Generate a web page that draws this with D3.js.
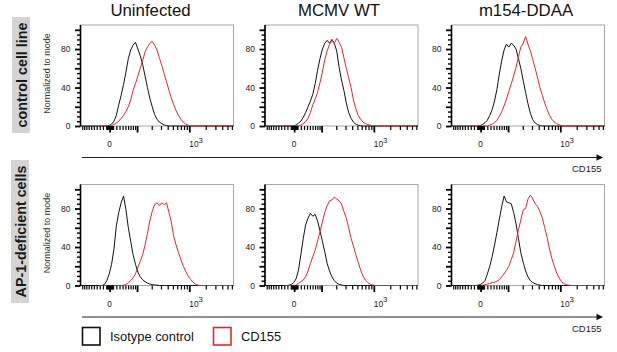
<!DOCTYPE html>
<html><head><meta charset="utf-8">
<script src="https://cdn.jsdelivr.net/npm/d3@7"></script>
<style>body{margin:0;background:#fff}svg{display:block}</style>
</head><body>
<svg id="chart" width="617" height="352"></svg>
<script>
// ---------------- data ----------------
const conditions = ["Uninfected", "MCMV WT", "m154-DDAA"];
const cellLines = ["control cell line", "AP-1-deficient cells"];
const legendLabels = ["Isotype control", "CD155"];
const axisTitle = "CD155";
const yAxisTitle = "Normalized to mode";
const yMinorTicks = [5,10,15,25,30,35,45,50,55,65,70,75,85,90,95];
const yMajorTicks = [0,20,40,60,80,100];
const yTickLabels = [0, 40, 80];
const xMinorTicks = [-100,-90,-80,-70,-60,-50,-40,-30,-20,-10,-8,-6,-4,-2,2,4,6,8,
  10,20,30,40,50,60,70,80,90,200,300,400,500,600,700,800,900,2000,3000,4000,5000,6000];
const xMajorTicks = [0, 100, 1000];
const xTickLabels = [{v: 0, base: "0", sup: ""}, {v: 1000, base: "10", sup: "3"}];

// histogram bins (display channels 0..1024)
const channels = [128,144,160,176,192,208,224,240,256,272,288,304,320,336,352,368,384,400,416,432,448,464,480,496,512,528,544,560,576,592,608,624,640,656,672,688,704,720,736,752,768,784,800];

// control cell line: [Uninfected, MCMV WT, m154-DDAA]
const controlIsotype = [
  [0,0,0,0,0.5,2,5,11,22,32,43,56,70,79,84,87,80,73,64,52,40,29,20,12,7,4,2.5,1,0.5,0,0,0,0,0,0,0,0,0,0,0,0,0,0],
  [0,0,0,0,0.3,1,3,5,9,14,20,26,33,44,58,70,80,86,89,86,90,86,78,61,48,37,24,14,8,4,2,0.8,0.3,0,0,0,0,0,0,0,0,0,0],
  [0,0,0,0,0.5,1.5,3.5,6,11,17,26,38,54,68,79,85,82,86,84,80,70,60,47,35,23,13,6.5,3,1.5,0.5,0,0,0,0,0,0,0,0,0,0,0,0,0]
];
const controlCD155 = [
  [0,0,0,0,0,0.5,1.5,3,5,8,11,15,20,27,37,44,52,60,68,77,82,86,88,84,79,71,63,54,46,37,29,22,16,11,7,4,2,0.8,0.3,0,0,0,0],
  [0,0,0,0,0,0,0.3,1,2.5,4.5,8,14,22,28,35,45,56,69,78,85,89,86,91,87,82,71,60,50,40,27,18,11,7,4,2.5,1.5,0.8,0.3,0,0,0,0,0],
  [0,0,0,0,0,0,0,0,1,2,3.5,6,10,15,21,28,36,44,52,61,72,82,86,93,85,78,69,60,50,40,32,24,17,11,7,4,2.5,1.2,0.5,0,0,0,0]
];
// AP-1-deficient cells
const ap1Isotype = [
  [0,0,1,5,12,22,38,62,76,86,93,79,60,46,32,22,14,9,6,4,2.5,1.5,1,0.6,0.3,0,0,0,0,0,0,0,0,0,0,0,0,0,0,0,0,0,0],
  [0,0,0.3,1,3,7,16,32,49,63,70,75,72,74,67,57,46,35,23,15,9,5,2.5,1.2,0.5,0,0,0,0,0,0,0,0,0,0,0,0,0,0,0,0,0,0],
  [0,0,0,0.3,1,2.5,5,12,20,30,42,55,69,82,93,87,86,85,76,64,49,34,24,15,9,5,3,1.8,1,0.4,0,0,0,0,0,0,0,0,0,0,0,0,0]
];
const ap1CD155 = [
  [0,0,0,0,0,0,0,0,0,0,0.3,1,3,5,8,12,19,25,32,42,54,67,77,84,86,83,86,84,86,76,66,51,42,34,27,20,15,10,6.5,3.5,1.5,0.5,0],
  [0,0,0,0,0,0.5,2,4,6,9,15,23,30,37,46,56,66,76,83,88,89,92,90,88,85,77,70,60,49,41,32,24,16,10,5.5,3,1.5,0.5,0,0,0,0,0],
  [0,0,0,0,0,0.3,0.8,1.5,2,3,3.5,4.5,6,9,12,16,20,27,34,46,58,68,79,80,90,94,90,85,82,77,70,60,50,38,28,20,13,8,4,2,1,0.4,0]
];
const isotypeRows = [controlIsotype, ap1Isotype];
const cd155Rows = [controlCD155, ap1CD155];

// ---------------- layout ----------------
const svg = d3.select("#chart");
const FONT = "'Liberation Sans', Arial, Helvetica, sans-serif";
const panelLeft = [80.5, 265, 451.5];
const panelTop = [25, 184.5];
const PW = 153, PH = 101;
const titleX = [150.5, 339, 526];
const BLACK = "#111", RED = "#e3262d";

const xScale = d3.scaleLinear().domain([0, 1024]).range([0, PW]);
const yScale = d3.scaleLinear().domain([0, 105]).range([PH, 0]);
// logicle-like display transform: fluorescence value -> display channel
const channelOf = v => 195 + 159 * Math.asinh(v / 70);
const tickX = v => xScale(channelOf(v));

const line = d3.line().x(d => xScale(d[0])).y(d => yScale(d[1])).curve(d3.curveLinear);

// column titles
conditions.forEach((c, j) => {
  svg.append("text").attr("x", titleX[j]).attr("y", 15.5)
    .attr("text-anchor", "middle").attr("font-family", FONT)
    .attr("font-size", 16.8).attr("fill", "#111").text(c);
});

// row labels
const rowBoxes = [{bx: 12, by: 17, bw: 18, bh: 116}, {bx: 11, by: 160, bw: 18, bh: 143}];
cellLines.forEach((lab, r) => {
  const b = rowBoxes[r];
  svg.append("rect").attr("x", b.bx).attr("y", b.by).attr("width", b.bw).attr("height", b.bh)
    .attr("fill", "#d4d4d4");
  const cxp = b.bx + b.bw / 2 + 0.5, cyp = b.by + b.bh / 2;
  svg.append("text").attr("transform", `translate(${cxp},${cyp}) rotate(-90)`)
    .attr("text-anchor", "middle").attr("dominant-baseline", "central")
    .attr("font-family", FONT).attr("font-weight", "bold").attr("font-size", 14.3)
    .attr("fill", "#1a1a1a").text(lab);
});

const styleAxis = (sel, w) => {
  sel.select(".domain").remove();
  sel.selectAll(".tick line").attr("stroke", "#000").attr("stroke-width", w);
  sel.selectAll(".tick text").remove();
};

cellLines.forEach((lab, r) => {
  const top = panelTop[r];
  svg.append("text").attr("transform", `translate(47,${top + 48.5}) rotate(-90)`)
    .attr("text-anchor", "middle").attr("dominant-baseline", "central")
    .attr("font-family", FONT).attr("font-size", 9).attr("fill", "#333").text(yAxisTitle);

  conditions.forEach((c, j) => {
    const g = svg.append("g").attr("transform", `translate(${panelLeft[j]},${top})`);
    g.append("rect").attr("x", 0).attr("y", 0).attr("width", PW).attr("height", PH)
      .attr("fill", "none").attr("stroke", "#a8a8a8").attr("stroke-width", 1);

    const iso = isotypeRows[r][j].map((v, i) => [channels[i], v]);
    const cd = cd155Rows[r][j].map((v, i) => [channels[i], v]);
    g.append("path").attr("d", line([[xScale.domain()[0], 0], ...iso, [xScale.domain()[1], 0]]))
      .attr("fill", "none").attr("stroke", BLACK).attr("stroke-width", 1).attr("stroke-linejoin", "round");
    g.append("path").attr("d", line([...cd, [xScale.domain()[1], 0]]))
      .attr("fill", "none").attr("stroke", RED).attr("stroke-width", 1).attr("stroke-linejoin", "round");

    // x ticks via d3 axes (positions through the logicle-like transform)
    const minorPos = xMinorTicks.map(channelOf).filter(ch => ch >= 0 && ch <= 1024);
    g.append("g").attr("transform", `translate(0,${PH})`)
      .call(d3.axisBottom(xScale).tickValues(minorPos).tickSize(4).tickSizeOuter(0))
      .call(s => styleAxis(s, 1.2));
    g.append("g").attr("transform", `translate(0,${PH})`)
      .call(d3.axisBottom(xScale).tickValues(xMajorTicks.map(channelOf)).tickSize(6.5).tickSizeOuter(0))
      .call(s => styleAxis(s, 1.8));

    xTickLabels.forEach(t => {
      const px = tickX(t.v);
      const tx = g.append("text").attr("y", PH + 21)
        .attr("font-family", FONT).attr("font-size", 8.3).attr("fill", "#222");
      if (t.sup) {
        tx.attr("x", px).attr("text-anchor", "start");
        tx.append("tspan").text(t.base);
        tx.append("tspan").attr("dy", -4.5).attr("font-size", 7.8).text(t.sup);
      } else {
        tx.attr("x", px).attr("text-anchor", "middle").text(t.base);
      }
    });

    // y axis
    g.append("line").attr("x1", 0).attr("x2", 0).attr("y1", 0).attr("y2", PH)
      .attr("stroke", "#000").attr("stroke-width", 1.6);
    g.append("g").call(d3.axisLeft(yScale).tickValues(yMinorTicks).tickSize(3.5).tickSizeOuter(0))
      .call(s => styleAxis(s, 1.4));
    g.append("g").call(d3.axisLeft(yScale).tickValues(yMajorTicks).tickSize(5.5).tickSizeOuter(0))
      .call(s => styleAxis(s, 1.8));
    yTickLabels.forEach(v => {
      g.append("text").attr("x", -10).attr("y", yScale(v)).attr("text-anchor", "end")
        .attr("dominant-baseline", "central").attr("font-family", FONT)
        .attr("font-size", 8.5).attr("fill", "#222").text(v);
    });
  });

  const ay = top + PH + 31.5;
  svg.append("line").attr("x1", 82).attr("x2", 598).attr("y1", ay).attr("y2", ay)
    .attr("stroke", "#222").attr("stroke-width", 1);
  svg.append("path").attr("d", `M596.5,${ay - 3.2}L603,${ay}L596.5,${ay + 3.2}Z`).attr("fill", "#111");
  svg.append("text").attr("x", 601.5).attr("y", ay + 14.5).attr("text-anchor", "end")
    .attr("font-family", FONT).attr("font-size", 9.5).attr("fill", "#222").text(axisTitle);
});

const legColors = [BLACK, RED];
const legX = [82.5, 213.5];
legendLabels.forEach((lab, i) => {
  svg.append("rect").attr("x", legX[i]).attr("y", 327.5).attr("width", 17.5).attr("height", 17.5)
    .attr("fill", "#fff").attr("stroke", legColors[i]).attr("stroke-width", 1.6);
  svg.append("text").attr("x", legX[i] + 27.5).attr("y", 340.5)
    .attr("font-family", FONT).attr("font-size", 12.9).attr("fill", "#111").text(lab);
});
</script>
</body></html>
